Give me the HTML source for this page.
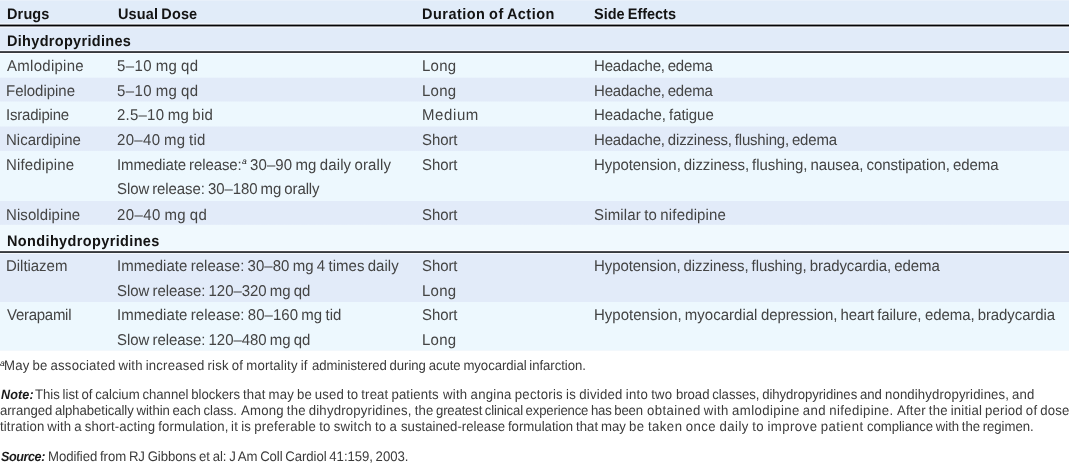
<!DOCTYPE html>
<html><head><meta charset="utf-8">
<title>Calcium channel blockers</title>
<style>
html,body{margin:0;padding:0;background:#fff;}
body{width:1069px;height:463px;position:relative;overflow:hidden;font-family:"Liberation Sans",sans-serif;}
.bg{position:absolute;left:0;width:1069px;}
.t{position:absolute;white-space:nowrap;}
.r{font-size:15.0px;line-height:18px;word-spacing:-1.0px;font-weight:normal;font-style:normal;color:#444;transform:matrix(1,0,0.001,1.04,0,0);transform-origin:0 14.20px;}
.b{font-size:14.5px;line-height:18px;word-spacing:-0.8px;font-weight:bold;font-style:normal;color:#141414;transform:matrix(1,0,0.001,1.05,0,0);transform-origin:0 14.02px;}
.f{font-size:13.2px;line-height:16px;word-spacing:-0.8px;font-weight:normal;font-style:normal;color:#3a3a3a;transform:matrix(1,0,0.001,1.05,0,0);transform-origin:0 12.57px;}
.fbi{font-size:12.6px;line-height:16px;word-spacing:-0.8px;font-weight:bold;font-style:italic;color:#1a1a1a;transform:matrix(1,0,0.001,1.06,0,0);transform-origin:0 12.37px;}
.sup{font-size:8.6px;line-height:10px;word-spacing:0px;font-weight:normal;font-style:italic;color:#222;transform:matrix(1,0,0.001,1.0,0,0);transform-origin:0 7.98px;}
</style></head><body>
<div class="bg" style="top:0;height:353px;background:linear-gradient(to bottom,#e8f0fa 0px,#e8f0fa 1px,#e1ecf9 1px,#e1ecf9 22.5px,#eff5fc 23px,#eff5fc 23.5px,#8d9096 24px,#8d9096 25px,#050505 25px,#050505 26px,#8d9096 26px,#8d9096 27px,#f0f5fc 27px,#f0f5fc 27.5px,#e1ebf9 28px,#e1ebf9 49.5px,#f1f5fc 50px,#f1f5fc 50.5px,#4a4c51 51px,#4a4c51 52px,#37393d 52px,#37393d 53px,#fbfdff 53px,#fbfdff 53.5px,#edf8fe 54.5px,#edf8fe 77.2px,#e2ebf9 78.2px,#e2ebf9 101px,#edf8fe 102px,#edf8fe 126px,#e2ebf9 127px,#e2ebf9 150.4px,#edf8fe 151.4px,#edf8fe 200.5px,#e2ebf9 201.5px,#e2ebf9 224.3px,#f0f9fe 225.3px,#f0f9fe 249.5px,#fbfdff 250px,#fbfdff 250.5px,#4a4c51 251px,#4a4c51 252px,#37393d 252px,#37393d 253px,#f4f7fd 253px,#f4f7fd 253.5px,#e2ebf9 254.5px,#e2ebf9 301.5px,#edf8fe 302.5px,#edf8fe 349.5px,#f3f8fc 350px,#f3f8fc 350.5px,#ffffff 351.5px,#ffffff 353px)"></div>

<div class="t b" style="left:7px;top:5px;letter-spacing:0.133px">Drugs</div>
<div class="t b" style="left:118px;top:5px;letter-spacing:0.106px">Usual Dose</div>
<div class="t b" style="left:422px;top:5px;letter-spacing:0.473px">Duration of Action</div>
<div class="t b" style="left:594px;top:5px;letter-spacing:-0.020px">Side Effects</div>
<div class="t b" style="left:7px;top:32px;letter-spacing:0.310px">Dihydropyridines</div>
<div class="t r" style="left:7px;top:57px;letter-spacing:0.275px">Amlodipine</div>
<div class="t r" style="left:117px;top:57px;letter-spacing:0.423px">5–10 mg qd</div>
<div class="t r" style="left:422px;top:57px;letter-spacing:0.254px">Long</div>
<div class="t r" style="left:594px;top:57px;letter-spacing:-0.199px">Headache, edema</div>
<div class="t r" style="left:6px;top:82px;letter-spacing:-0.025px">Felodipine</div>
<div class="t r" style="left:117px;top:82px;letter-spacing:0.423px">5–10 mg qd</div>
<div class="t r" style="left:422px;top:82px;letter-spacing:0.254px">Long</div>
<div class="t r" style="left:594px;top:82px;letter-spacing:-0.199px">Headache, edema</div>
<div class="t r" style="left:6px;top:106px;letter-spacing:-0.212px">Isradipine</div>
<div class="t r" style="left:117px;top:106px;letter-spacing:0.230px">2.5–10 mg bid</div>
<div class="t r" style="left:422px;top:106px;letter-spacing:0.603px">Medium</div>
<div class="t r" style="left:594px;top:106px;letter-spacing:-0.065px">Headache, fatigue</div>
<div class="t r" style="left:6px;top:131px;letter-spacing:-0.010px">Nicardipine</div>
<div class="t r" style="left:117px;top:131px;letter-spacing:0.338px">20–40 mg tid</div>
<div class="t r" style="left:422px;top:131px;letter-spacing:-0.086px">Short</div>
<div class="t r" style="left:594px;top:131px;letter-spacing:-0.189px">Headache, dizziness, flushing, edema</div>
<div class="t r" style="left:6px;top:156px;letter-spacing:0.153px">Nifedipine</div>
<div class="t r" style="left:117px;top:156px;letter-spacing:-0.110px">Immediate release:</div>
<div class="t sup" style="left:242px;top:156px;letter-spacing:0.000px">a</div>
<div class="t r" style="left:250px;top:156px;letter-spacing:0.107px">30–90 mg daily orally</div>
<div class="t r" style="left:422px;top:156px;letter-spacing:-0.086px">Short</div>
<div class="t r" style="left:594px;top:156px;letter-spacing:-0.068px">Hypotension, dizziness, flushing, nausea, constipation, edema</div>
<div class="t r" style="left:117px;top:180px;letter-spacing:-0.092px">Slow release: 30–180 mg orally</div>
<div class="t r" style="left:6px;top:206px;letter-spacing:0.082px">Nisoldipine</div>
<div class="t r" style="left:117px;top:206px;letter-spacing:0.418px">20–40 mg qd</div>
<div class="t r" style="left:422px;top:206px;letter-spacing:-0.086px">Short</div>
<div class="t r" style="left:594px;top:206px;letter-spacing:0.152px">Similar to nifedipine</div>
<div class="t b" style="left:7px;top:232px;letter-spacing:0.363px">Nondihydropyridines</div>
<div class="t r" style="left:6px;top:257px;letter-spacing:-0.038px">Diltiazem</div>
<div class="t r" style="left:117px;top:257px;letter-spacing:0.044px">Immediate release: 30–80 mg 4 times daily</div>
<div class="t r" style="left:422px;top:257px;letter-spacing:-0.086px">Short</div>
<div class="t r" style="left:594px;top:257px;letter-spacing:-0.090px">Hypotension, dizziness, flushing, bradycardia, edema</div>
<div class="t r" style="left:117px;top:282px;letter-spacing:-0.046px">Slow release: 120–320 mg qd</div>
<div class="t r" style="left:422px;top:282px;letter-spacing:0.254px">Long</div>
<div class="t r" style="left:7px;top:306px;letter-spacing:-0.274px">Verapamil</div>
<div class="t r" style="left:117px;top:306px;letter-spacing:0.053px">Immediate release: 80–160 mg tid</div>
<div class="t r" style="left:422px;top:306px;letter-spacing:-0.086px">Short</div>
<div class="t r" style="left:594px;top:306px;letter-spacing:0.009px">Hypotension, myocardial</div>
<div class="t r" style="left:761px;top:306px;letter-spacing:-0.104px">depression, heart failure,</div>
<div class="t r" style="left:925px;top:306px;letter-spacing:-0.080px">edema, bradycardia</div>
<div class="t r" style="left:117px;top:331px;letter-spacing:-0.046px">Slow release: 120–480 mg qd</div>
<div class="t r" style="left:422px;top:331px;letter-spacing:0.254px">Long</div>
<div class="t f" style="left:4px;top:358px;letter-spacing:0.181px">May be associated with increased risk of mortality if</div>
<div class="t f" style="left:312px;top:358px;letter-spacing:-0.062px">administered during acute myocardial infarction.</div>
<div class="t sup" style="left:0px;top:358px;letter-spacing:0.000px">a</div>
<div class="t fbi" style="left:1px;top:387px;letter-spacing:0.101px">Note:</div>
<div class="t f" style="left:35px;top:387px;letter-spacing:-0.036px">This list of calcium channel blockers</div>
<div class="t f" style="left:243px;top:387px;letter-spacing:0.141px">that may be used to treat patients</div>
<div class="t f" style="left:443px;top:387px;letter-spacing:0.247px">with angina pectoris is divided into two</div>
<div class="t f" style="left:676px;top:387px;letter-spacing:-0.063px">broad classes, dihydropyridines and</div>
<div class="t f" style="left:885px;top:387px;letter-spacing:0.117px">nondihydropyridines, and</div>
<div class="t f" style="left:0px;top:403px;letter-spacing:-0.080px">arranged alphabetically within each class.</div>
<div class="t f" style="left:241px;top:403px;letter-spacing:0.188px">Among the dihydropyridines, the</div>
<div class="t f" style="left:436px;top:403px;letter-spacing:-0.187px">greatest clinical experience has been</div>
<div class="t f" style="left:647px;top:403px;letter-spacing:0.378px">obtained with amlodipine and nifedipine.</div>
<div class="t f" style="left:897px;top:403px;letter-spacing:0.181px">After the initial period of dose</div>
<div class="t f" style="left:0px;top:419px;letter-spacing:0.126px">titration with a short-acting formulation,</div>
<div class="t f" style="left:231px;top:419px;letter-spacing:0.240px">it is preferable to switch to a</div>
<div class="t f" style="left:401px;top:419px;letter-spacing:-0.000px">sustained-release formulation that may</div>
<div class="t f" style="left:629px;top:419px;letter-spacing:0.453px">be taken once daily to improve patient</div>
<div class="t f" style="left:867px;top:419px;letter-spacing:-0.066px">compliance with the regimen.</div>
<div class="t fbi" style="left:1px;top:449px;letter-spacing:-0.423px">Source:</div>
<div class="t f" style="left:48px;top:449px;letter-spacing:-0.076px">Modified from RJ Gibbons et al: J Am Coll Cardiol 41:159, 2003.</div>
</body></html>
